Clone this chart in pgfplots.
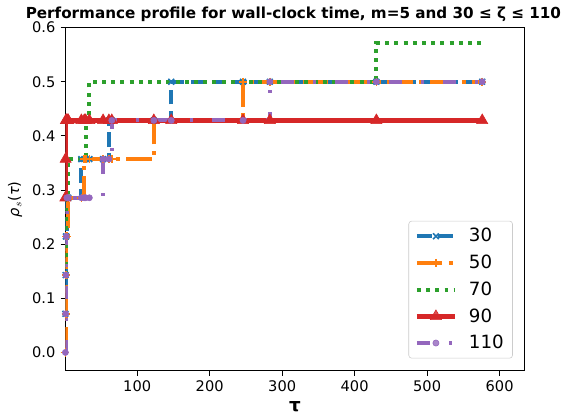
\documentclass[border=0pt]{standalone}
\usepackage{fontspec}
\setmainfont{DejaVu Sans}
\usepackage{pgfplots}
\pgfplotsset{compat=1.18}
\definecolor{c1}{HTML}{1F77B4}
\definecolor{c2}{HTML}{FF7F0E}
\definecolor{c3}{HTML}{2CA02C}
\definecolor{c4}{HTML}{D62728}
\definecolor{c5}{HTML}{9467BD}
\begin{document}
\begin{tikzpicture}
\useasboundingbox (-44.8pt,-31.0pt) rectangle (342.2pt,254.0pt);
\begin{axis}[
  at={(0,0)}, anchor=south west,
  scale only axis, width=314.3pt, height=235.1pt,
  xmin=1, xmax=634, ymin=-0.034, ymax=0.6,
  xtick={100,200,300,400,500,600},
  ytick={0,0.1,0.2,0.3,0.4,0.5,0.6},
  yticklabel style={/pgf/number format/.cd,fixed,fixed zerofill,precision=1},
  /pgf/number format/assume math mode=true,
  tick label style={font=\fontsize{10}{12}\selectfont},
  tick align=outside, tick pos=left,
  major tick length=3.3pt,
  every tick/.style={black, line width=0.6pt},
  axis line style={line width=0.6pt},
  title={\fontsize{10.4}{12}\selectfont\bfseries Performance profile for wall-clock time, m=5 and 30 ≤ ζ ≤ 110},
  title style={yshift=-5.5pt, xshift=-1pt},
  xlabel={\fontsize{12.5}{14}\selectfont\bfseries τ},
  ylabel={\fontsize{10}{12}\selectfont\textit{ρ}$_s$(\textit{τ})},
  legend style={at={(0.975,0.036)}, anchor=south east, draw=black!20, rounded corners=2pt,
    fill=white, fill opacity=0.8, text opacity=1, font=\fontsize{12.5}{15}\selectfont,
    row sep=3.5pt, column sep=6pt, inner xsep=4pt, inner ysep=3pt},
  legend cell align=left,
  legend image code/.code={
    \draw[#1,mark=none,sharp plot] (0pt,0pt) -- (26pt,0pt);
    \draw[#1,sharp plot] plot[only marks] coordinates {(13pt,0pt)};},
  const plot, line cap=butt
]
\addplot[c1, line width=2.7pt, dash pattern=on 10pt off 4.4pt, mark=x, mark size=2.8pt, mark options={solid, line width=1.1pt}] coordinates {
(1,0.0714)(1.3,0.1429)(1.7,0.2143)(2.2,0.2143)(3,0.2857)(4,0.2857)(5,0.2857)(23,0.3571)(27,0.3571)(29,0.3571)(34,0.3571)(53,0.3571)(61,0.4286)(65,0.4286)(123,0.4286)(147,0.5)(246,0.5)(283,0.5)(430,0.5)(576,0.5)};
\addlegendentry{30}
\addplot[c2, line width=2.7pt, dash pattern=on 17.5pt off 4.4pt on 2.7pt off 4.4pt, mark=+, mark size=2.8pt, mark options={solid, line width=1.1pt}] coordinates {
(1,0)(1.3,0.0714)(1.7,0.1429)(2.2,0.2143)(3,0.2143)(4,0.2857)(5,0.2857)(23,0.2857)(27,0.3571)(29,0.3571)(34,0.3571)(53,0.3571)(61,0.3571)(65,0.3571)(123,0.4286)(147,0.4286)(246,0.5)(283,0.5)(430,0.5)(576,0.5)};
\addlegendentry{50}
\addplot[c3, line width=2.7pt, dash pattern=on 2.7pt off 3.6pt, mark=none] coordinates {
(1,0.1429)(1.3,0.2143)(1.7,0.2143)(2.2,0.2857)(3,0.2857)(4,0.3571)(5,0.3571)(23,0.3571)(27,0.3571)(29,0.4286)(34,0.5)(53,0.5)(61,0.5)(65,0.5)(123,0.5)(147,0.5)(246,0.5)(283,0.5)(430,0.5714)(576,0.5714)};
\addlegendentry{70}
\addplot[c4, line width=3.2pt, mark=triangle*, mark size=4.4pt, mark options={solid, line width=0.4pt}] coordinates {
(1,0.2857)(1.3,0.3571)(1.7,0.4286)(2.2,0.4286)(3,0.4286)(4,0.4286)(5,0.4286)(23,0.4286)(27,0.4286)(29,0.4286)(34,0.4286)(53,0.4286)(61,0.4286)(65,0.4286)(123,0.4286)(147,0.4286)(246,0.4286)(283,0.4286)(430,0.4286)(576,0.4286)};
\addlegendentry{90}
\addplot[c5, line width=2.7pt, dash pattern=on 9pt off 13pt on 2pt off 13pt, mark=*, mark size=2.1pt, mark options={solid, line width=0.4pt}] coordinates {
(1,0)(1.3,0.0714)(1.7,0.1429)(2.2,0.2143)(3,0.2857)(4,0.2857)(5,0.2857)(23,0.2857)(27,0.2857)(29,0.2857)(34,0.2857)(53,0.3571)(61,0.3571)(65,0.4286)(123,0.4286)(147,0.4286)(246,0.4286)(283,0.5)(430,0.5)(576,0.5)};
\addlegendentry{110}
\end{axis}
\end{tikzpicture}
\end{document}
